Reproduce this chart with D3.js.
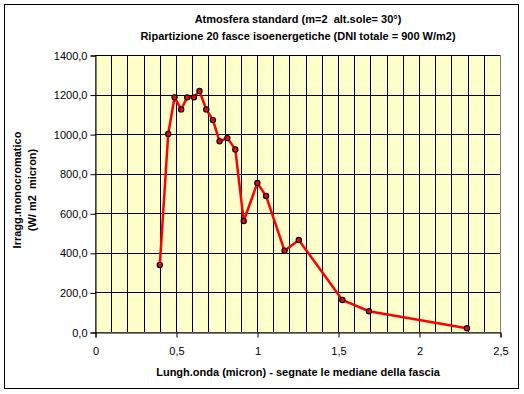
<!DOCTYPE html>
<html>
<head>
<meta charset="utf-8">
<script src="https://cdn.jsdelivr.net/npm/d3@7"></script>
<style>
  body { margin: 0; background: #fff; }
  text { font-family: "Liberation Sans", Arial, sans-serif; white-space: pre; }
</style>
</head>
<body>
<svg id="chart" width="524" height="394"></svg>
<script>
// wavelength (micron) - median of each band
let lambda = [0.40, 0.452, 0.491, 0.532, 0.569, 0.611, 0.645, 0.687, 0.728, 0.769,
              0.817, 0.866, 0.918, 1.002, 1.056, 1.170, 1.258, 1.527, 1.691, 2.296]
// monochromatic irradiance (W/m2 micron)
let irr = [339, 1001, 1186, 1125, 1186, 1186, 1218, 1125, 1071, 964,
           980, 923, 561, 753, 687, 411, 465, 162, 105, 19]
let xTicks = [0, 0.5, 1, 1.5, 2, 2.5]
let yTicks = [0, 200, 400, 600, 800, 1000, 1200, 1400]
let titles = ["Atmosfera standard (m=2  alt.sole= 30°)",
              "Ripartizione 20 fasce isoenergetiche (DNI totale = 900 W/m2)"]
let xTitle = "Lungh.onda (micron) - segnate le mediane della fascia"
let yTitle = ["Irragg.monocromatico", "(W/ m2  micron)"]

let svg = d3.select("#chart")
let pLeft = 95, pRight = 500, pTop = 55, pBottom = 332

let x = d3.scaleLinear().domain([0, 2.5]).range([pLeft, pRight])
let y = d3.scaleLinear().domain([0, 1400]).range([pBottom, pTop])
let fmt = (v) => d3.format(".1f")(v).replace(".", ",")

// outer frame
svg.append("rect")
   .attr("x", 4.5).attr("y", 4.5)
   .attr("width", 514).attr("height", 384)
   .attr("fill", "white").attr("stroke", "black")

// plot area
svg.append("rect")
   .attr("x", pLeft + 0.5).attr("y", pTop + 0.5)
   .attr("width", pRight - pLeft).attr("height", pBottom - pTop)
   .attr("fill", "#ffffcc").attr("stroke", "#808080")

// grid
svg.append("g")
   .selectAll("line")
   .data(d3.range(1, 25).map((i) => i / 10))
   .enter()
   .append("line")
   .attr("x1", (d) => Math.round(x(d)) + 0.5).attr("x2", (d) => Math.round(x(d)) + 0.5)
   .attr("y1", pTop).attr("y2", pBottom)
   .attr("stroke", "black")

svg.append("g")
   .selectAll("line")
   .data(yTicks.slice(1))
   .enter()
   .append("line")
   .attr("x1", pLeft).attr("x2", pRight)
   .attr("y1", (d) => Math.round(y(d)) + 0.5).attr("y2", (d) => Math.round(y(d)) + 0.5)
   .attr("stroke", "black")

// axes
let xAxis = svg.append("g")
   .attr("transform", `translate(0.5, ${pBottom + 0.5})`)
   .call(d3.axisBottom(x).tickValues(xTicks).tickFormat((d) => String(d).replace(".", ",")).tickSize(5).tickPadding(10))
let yAxis = svg.append("g")
   .attr("transform", `translate(${pLeft + 0.5}, 0.5)`)
   .call(d3.axisLeft(y).tickValues(yTicks).tickFormat(fmt).tickSize(5).tickPadding(3))

for (let ax of [xAxis, yAxis]) {
    ax.select(".domain").attr("stroke", "black")
    ax.selectAll(".tick line").attr("stroke", "black")
    ax.selectAll("text").attr("font-size", "11px").attr("fill", "black")
              .style("font-family", "'Liberation Sans', Arial, sans-serif")
}

// series
let pts = lambda.map((l, i) => [l, irr[i]])
svg.append("path")
   .datum(pts)
   .attr("fill", "none")
   .attr("stroke", "#ff0000")
   .attr("stroke-width", 2.5)
   .attr("d", d3.line().x((d) => x(d[0])).y((d) => y(d[1])))

svg.append("g")
   .selectAll("circle")
   .data(pts)
   .enter()
   .append("circle")
   .attr("cx", (d) => x(d[0])).attr("cy", (d) => y(d[1]))
   .attr("r", 2.6)
   .attr("fill", "#ff0000")
   .attr("stroke", "black")
   .attr("stroke-width", 1.2)

// titles
svg.selectAll(".title")
   .data(titles)
   .enter()
   .append("text")
   .attr("x", 298).attr("y", (d, i) => 23 + i * 17)
   .attr("text-anchor", "middle")
   .attr("font-size", "11px").attr("font-weight", "bold")
   .text((d) => d)

svg.append("text")
   .attr("x", 298).attr("y", 376)
   .attr("text-anchor", "middle")
   .attr("font-size", "11px").attr("font-weight", "bold")
   .text(xTitle)

svg.selectAll(".ytitle")
   .data(yTitle)
   .enter()
   .append("text")
   .attr("transform", (d, i) => `translate(${21 + i * 15}, 190) rotate(-90)`)
   .attr("text-anchor", "middle")
   .attr("font-size", "11px").attr("font-weight", "bold")
   .text((d) => d)
</script>
</body>
</html>
